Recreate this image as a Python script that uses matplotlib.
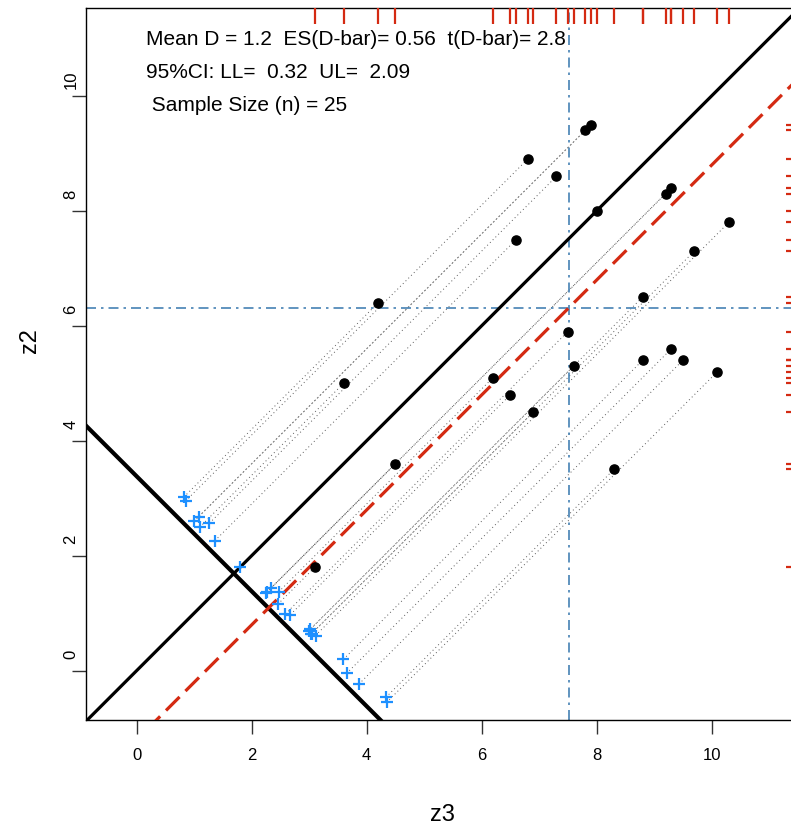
import matplotlib
matplotlib.use("Agg")
import matplotlib.pyplot as plt
import matplotlib.transforms as mtransforms
import numpy as np

# ---------------- data ----------------
z3 = [7.9, 7.8, 6.8, 7.3, 9.3, 9.2, 8.0, 10.3, 6.6, 9.7, 4.2, 8.8, 7.5,
      9.3, 8.8, 9.5, 7.6, 10.1, 3.6, 6.2, 6.5, 6.9, 4.5, 8.3, 3.1]
z2 = [9.5, 9.4, 8.9, 8.6, 8.4, 8.3, 8.0, 7.8, 7.5, 7.3, 6.4, 6.5, 5.9,
      5.6, 5.4, 5.4, 5.3, 5.2, 5.0, 5.1, 4.8, 4.5, 3.6, 3.5, 1.8]
# position (x + y) of each difference "shadow" cross
shadow_sum = [3.76, 3.59, 3.80, 3.83, 3.61, 3.76, 3.61, 3.72, 3.62, 3.66,
              3.84, 3.68, 3.57, 3.60, 3.79, 3.63, 3.74, 3.79, 3.59, 3.84,
              3.65, 3.69, 3.65, 3.87, 3.61]
anti_diag_sum = 3.38
x_ticks = [0, 2, 4, 6, 8, 10]
y_ticks = [0, 2, 4, 6, 8, 10]
x_label = "z3"
y_label = "z2"
stats_lines = ["Mean D = 1.2  ES(D-bar)= 0.56  t(D-bar)= 2.8",
               "95%CI: LL=  0.32  UL=  2.09",
               " Sample Size (n) = 25"]

# ---------------- style ----------------
RED = "#D42A12"
BLUE = "#1E90FF"
STEEL = "#4682B4"
plt.rcParams["font.family"] = ["Liberation Sans", "DejaVu Sans"]

W, H, DPI = 791, 826, 100
fig = plt.figure(figsize=(W / DPI, H / DPI), dpi=DPI)
ax_l, ax_r, ax_b, ax_t = 86.4, 799.0, 720.0, 8.0
ax = fig.add_axes([ax_l / W, 1 - ax_b / H, (ax_r - ax_l) / W, (ax_b - ax_t) / H])
ax.set_xlim(-0.875, 11.52)
ax.set_ylim(-0.86, 11.53)

x = np.array(z3)
y = np.array(z2)
d = x - y
mean_d = d.mean()
s = np.array(shadow_sum)
cx = (s + d) / 2
cy = (s - d) / 2

# dotted connectors from each point to its shadow cross
for xi, yi, cxi, cyi in zip(x, y, cx, cy):
    ax.plot([cxi, xi], [cyi, yi], color="#5a5a5a", lw=0.7,
            linestyle=(0, (1, 3)), zorder=1)

# reference lines
big = np.array([-3.0, 15.0])
ax.plot(big, big, color="black", lw=2.3, zorder=3, solid_capstyle="butt")
ax.plot(big, anti_diag_sum - big, color="black", lw=3.0, zorder=3)
ax.plot(big, big - mean_d, color=RED, lw=2.3, zorder=3,
        linestyle=(0, (6, 2.6)))
ax.axvline(x.mean(), color=STEEL, lw=1.2, linestyle=(0, (6, 3, 1.5, 3)), zorder=2)
ax.axhline(y.mean(), color=STEEL, lw=1.2, linestyle=(0, (6, 3, 1.5, 3)), zorder=2)

# points and shadows
ax.plot(x, y, "o", color="black", ms=6.6, zorder=4)
ax.plot(cx, cy, "+", color=BLUE, ms=8.5, mew=1.6, zorder=4)

# rugs
top_tr = ax.get_xaxis_transform()
for xi in x:
    ax.plot([xi, xi], [1.0, 0.978], color=RED, lw=1.6, transform=top_tr,
            clip_on=False, zorder=5, solid_capstyle="butt")
right_tr = ax.get_yaxis_transform()
for yi in y:
    ax.plot([0.982, 1.0], [yi, yi], color=RED, lw=1.6, transform=right_tr,
            clip_on=False, zorder=5, solid_capstyle="butt")

# text
for i, line in enumerate(stats_lines):
    ax.text(0.0836, [0.948, 0.9017, 0.8553][i], line, transform=ax.transAxes,
            fontsize=15, ha="left", va="baseline", color="black")

# axes / spines
ax.spines["right"].set_visible(False)
for sp in ("left", "bottom", "top"):
    ax.spines[sp].set_linewidth(1.0)
ax.set_xticks(x_ticks)
ax.set_yticks(y_ticks)
ax.tick_params(axis="both", direction="out", length=10, width=1.0,
               color="#333333", labelsize=12)
ax.tick_params(axis="x", pad=10)
ax.set_yticklabels([])
ylab_tr = mtransforms.offset_copy(ax.get_yaxis_transform(), fig=fig,
                                  x=0, y=16, units="dots")
for v in y_ticks:
    ax.text(-0.0216, v, str(v), transform=ylab_tr, rotation=90,
            ha="center", va="center", fontsize=12)

ax.set_xlabel(x_label, fontsize=17)
ax.xaxis.set_label_coords(0.5, -0.134)
ax.xaxis.label.set_va("center")
fig.text(30 / W, 1 - 341 / H, y_label, rotation=90, ha="center", va="center",
         fontsize=17)

fig.savefig("out.png", dpi=DPI)
